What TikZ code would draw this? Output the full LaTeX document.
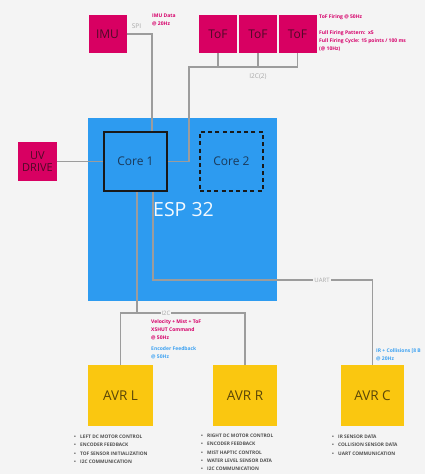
\documentclass[tikz,border=0pt]{standalone}
\usepackage{fontspec}
\setmainfont{Open Sans}
\definecolor{bgc}{HTML}{F4F4F4}
\definecolor{mag}{HTML}{D80062}
\definecolor{magtxt}{HTML}{4E0A26}
\definecolor{yel}{HTML}{FAC710}
\definecolor{yeltxt}{HTML}{5A4608}
\definecolor{esp}{HTML}{2D9BF0}
\definecolor{coretxt}{HTML}{1B3A5A}
\definecolor{wire}{HTML}{9C9C9C}
\definecolor{wlab}{HTML}{A8A8A8}
\definecolor{maglab}{HTML}{D6006A}
\definecolor{bluelab}{HTML}{3EA2F2}
\definecolor{listtxt}{HTML}{505050}
\newcommand\bitem{\makebox[6pt][l]{\textbullet}}
\tikzset{
  magbox/.style={fill=mag, text=magtxt, minimum width=38pt, minimum height=38pt, inner sep=0pt, font=\fontsize{12}{13}\selectfont, align=center},
  avrbox/.style={fill=yel, text=yeltxt, minimum height=61pt, inner sep=0pt, font=\fontsize{13.5}{14}\selectfont},
  corebox/.style={text=coretxt, minimum width=63pt, minimum height=59pt, inner sep=0pt, font=\fontsize{12}{13}\selectfont},
  wireline/.style={draw=wire, line width=1.2pt},
  wirelabel/.style={text=wlab, fill=bgc, inner sep=1pt, font=\fontsize{6.5}{7}\selectfont},
  smalllab/.style={anchor=north west, align=left, inner sep=0pt, font=\fontsize{5}{8.2}\bfseries\selectfont},
  listlab/.style={anchor=north west, align=left, inner sep=0pt, text=listtxt, font=\fontsize{4.8}{8.2}\bfseries\selectfont},
}
\begin{document}
\begin{tikzpicture}[x=1pt,y=-1pt]
\fill[bgc] (0,0) rectangle (425,474);
\useasboundingbox (0,0) rectangle (425,474);

% ESP32 block
\node[fill=esp, minimum width=189pt, minimum height=183pt, inner sep=0pt] (esp) at (182.5,209.5) {};
\node[text=white!94!esp, font=\fontsize{19.5}{20}\selectfont, anchor=west, inner sep=0pt] (esplab) at (153,209.5) {ESP 32};
\node[corebox, draw=black!90, line width=1.6pt] (core1) at (135.5,161.5) {Core 1};
\node[corebox, draw=black!90, line width=1.5pt, dash pattern=on 4pt off 3.2pt] (core2) at (231.5,161.5) {Core 2};

% magenta peripherals
\node[magbox] (imu) at (107.5,34) {IMU};
\node[magbox] (tof1) at (218,34) {ToF};
\node[magbox] (tof2) at (258,34) {ToF};
\node[magbox] (tof3) at (297.5,34) {ToF};
\node[magbox, minimum width=39pt, minimum height=39pt, font=\fontsize{11}{12}\selectfont] (uv) at (37.5,161.5) {UV\\DRIVE};

% AVRs
\node[avrbox, minimum width=65pt] (avrl) at (120.5,395.5) {AVR L};
\node[avrbox, minimum width=64pt] (avrr) at (245,395.5) {AVR R};
\node[avrbox, minimum width=63pt] (avrc) at (372.5,395.5) {AVR C};

% connectors
\coordinate (spic) at (152,34);
\draw[wireline] (imu.east) -- (spic) -- ([xshift=16.5pt]core1.north);
\node[wirelabel, fill=none, anchor=south] (spilab) at (136.5,30) {SPI};

\coordinate (bus2) at (189,67);
\draw[wireline] (core1.east) -| (bus2) -| (tof3.south);
\draw[wireline] (tof1.south) -- (tof1.south |- bus2);
\draw[wireline] (tof2.south) -- (tof2.south |- bus2);
\node[wirelabel, fill=none] (i2c2lab) at (258,77) {I2C(2)};

\draw[wireline] (uv.east) -- (core1.west);

\coordinate (i2cc) at (137,313);
\draw[wireline] ([xshift=1.5pt]core1.south) -- (i2cc);
\draw[wireline] (avrl.north) |- (i2cc -| avrr.north) -- (avrr.north);
\node[wirelabel, font=\fontsize{6}{7}\selectfont] (i2clab) at (166,313) {I2C};

\coordinate (uartc) at (372.5,280);
\draw[wireline] ([xshift=17.5pt]core1.south) |- (uartc) -- (avrc.north);
\node[wirelabel, font=\fontsize{6}{7}\selectfont] (uartlab) at (322,280) {UART};

% data labels
\node[smalllab, text=maglab] (imudata) at (152,14) {IMU Data\\@ 20Hz};
\node[smalllab, text=maglab] (tofdata) at (319,14) {ToF Firing @ 50Hz\\[8.2pt]Full Firing Pattern:\ \ x5\\Full Firing Cycle: 15 points / 100 ms\\(@ 10Hz)};
\node[smalllab, text=maglab] (veldata) at (151,319) {Velocity + Mist + ToF\\XSHUT Command\\@ 50Hz};
\node[smalllab, text=bluelab] (encdata) at (151,346) {Encoder Feedback\\@ 50Hz};
\node[smalllab, text=bluelab] (irdata) at (376,348) {IR + Collisions [8 B\\@ 20Hz};

% lists
\node[listlab] (listl) at (74,435) {\bitem LEFT DC MOTOR CONTROL\\\bitem ENCODER FEEDBACK\\\bitem TOF SENSOR INITIALIZATION\\\bitem I2C COMMUNICATION};
\node[listlab] (listr) at (201,434) {\bitem RIGHT DC MOTOR CONTROL\\\bitem ENCODER FEEDBACK\\\bitem MIST HAPTIC CONTROL\\\bitem WATER LEVEL SENSOR DATA\\\bitem I2C COMMUNICATION};
\node[listlab] (listc) at (332,435) {\bitem IR SENSOR DATA\\\bitem COLLISION SENSOR DATA\\\bitem UART COMMUNICATION};
\end{tikzpicture}
\end{document}
